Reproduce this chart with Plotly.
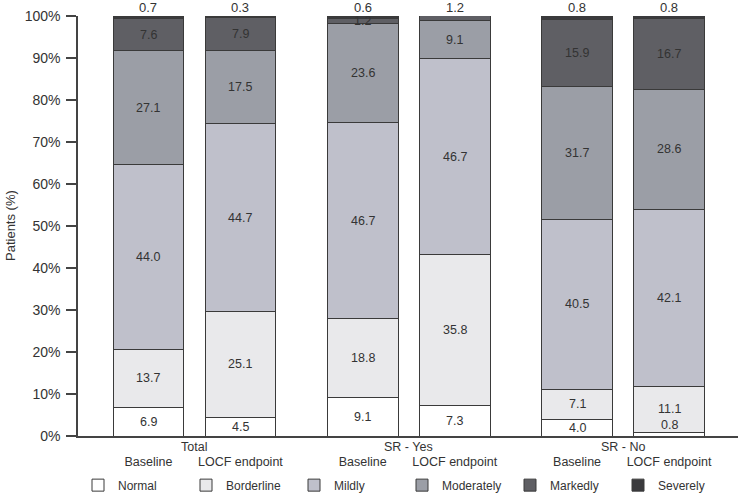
import plotly.graph_objects as go

# ---- data ----
groups = ["Total", "SR - Yes", "SR - No"]
timepoints = ["Baseline", "LOCF endpoint"]
series_names = ["Normal", "Borderline", "Mildly", "Moderately", "Markedly", "Severely"]
normal = [6.9, 4.5, 9.1, 7.3, 4.0, 0.8]
borderline = [13.7, 25.1, 18.8, 35.8, 7.1, 11.1]
mildly = [44.0, 44.7, 46.7, 46.7, 40.5, 42.1]
moderately = [27.1, 17.5, 23.6, 9.1, 31.7, 28.6]
markedly = [7.6, 7.9, 1.2, 1.2, 15.9, 16.7]
severely = [0.7, 0.3, 0.6, 0.0, 0.8, 0.8]
top_labels = ["0.7", "0.3", "0.6", "1.2", "0.8", "0.8"]
y_ticks = [0, 10, 20, 30, 40, 50, 60, 70, 80, 90, 100]

colors = ["#ffffff", "#e9e9eb", "#bfc0cb", "#9b9ea6", "#5f5f64", "#3a3a3d"]
series = [normal, borderline, mildly, moderately, markedly, severely]

# layout positions (group spacing)
group_step = 2.33
xpos = [g * group_step + j for g in range(len(groups)) for j in range(len(timepoints))]
tick_text = [t for g in groups for t in timepoints]

FONT = "Liberation Sans, Arial, sans-serif"
TXT = "#333333"

fig = go.Figure()
for name, vals, col in zip(series_names, series, colors):
    fig.add_trace(go.Bar(
        x=xpos, y=vals, name=name, width=0.77,
        marker=dict(color=col, line=dict(color="#3a3a3a", width=1)),
        hoverinfo="name+y",
    ))

annotations = []
# inside labels
bases = [0.0] * len(xpos)
for si, vals in enumerate(series):
    for i, v in enumerate(vals):
        show = True
        if series_names[si] == "Severely":
            show = False
        if series_names[si] == "Markedly" and severely[i] == 0:
            show = False
        if show and v > 0:
            yc = bases[i] + v / 2
            if yc < 2:
                yc = 2.6
            annotations.append(dict(x=xpos[i], y=yc, text=f"{v:.1f}", showarrow=False,
                                    font=dict(size=12.5, color=TXT, family=FONT),
                                    xref="x", yref="y"))
        bases[i] += v

# labels above bars
for i, lab in enumerate(top_labels):
    annotations.append(dict(x=xpos[i], y=min(bases[i], 100), text=lab, showarrow=False,
                            yanchor="bottom", yshift=-1,
                            font=dict(size=13, color=TXT, family=FONT),
                            xref="x", yref="y"))

# group labels
for g, gname in enumerate(groups):
    annotations.append(dict(x=g * group_step + 0.5, y=-0.026, xref="x", yref="paper",
                            text=gname, showarrow=False, yanchor="middle",
                            font=dict(size=12.5, color=TXT, family=FONT)))

# y-axis title
annotations.append(dict(x=0, y=0.5, xref="paper", yref="paper", xshift=-68,
                        text="Patients (%)", textangle=-90, showarrow=False,
                        xanchor="center", yanchor="middle",
                        font=dict(size=13, color=TXT, family=FONT)))

fig.update_layout(
    barmode="stack",
    width=740, height=498,
    margin=dict(l=78, r=2, t=16, b=62, autoexpand=False),
    plot_bgcolor="white", paper_bgcolor="white",
    font=dict(family=FONT, color=TXT, size=13),
    annotations=annotations,
    legend=dict(orientation="h", x=0.0, xanchor="left", y=-0.117, yanchor="middle",
                entrywidth=63, entrywidthmode="pixels", traceorder="normal",
                itemwidth=30, tracegroupgap=0,
                font=dict(size=12, color=TXT, family=FONT)),
    xaxis=dict(range=[-0.766, 6.41], tickvals=xpos, ticktext=tick_text, ticks="",
               showline=True, linecolor="#444444", linewidth=1.5, showgrid=False,
               zeroline=False, ticklabelstandoff=13,
               tickfont=dict(size=12.5, color=TXT, family=FONT)),
    yaxis=dict(range=[0, 100], tickvals=y_ticks, ticktext=[f"{t}%" for t in y_ticks],
               ticks="outside", ticklen=10, tickwidth=1.5, tickcolor="#444444",
               ticklabelstandoff=3,
               showline=True, linecolor="#444444", linewidth=1.5, showgrid=False,
               zeroline=False, tickfont=dict(size=14, color=TXT, family=FONT)),
)

fig.write_html("out.html", config={"displayModeBar": False},
               post_script=["document.body.style.margin='0';"])
